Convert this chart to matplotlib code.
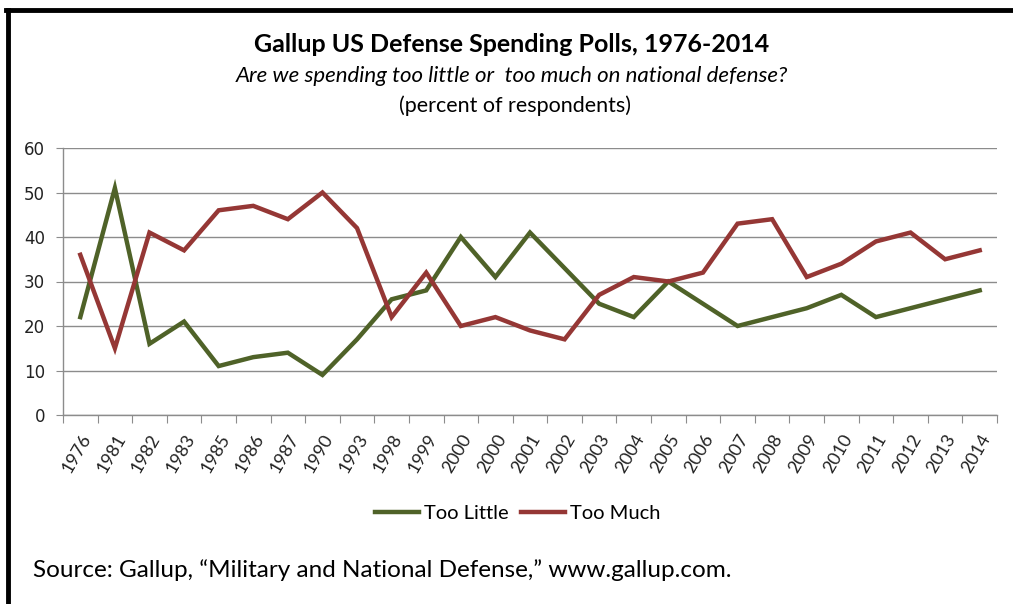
import matplotlib
matplotlib.use('Agg')
import matplotlib.pyplot as plt
from matplotlib.lines import Line2D

years = ['1976', '1981', '1982', '1983', '1985', '1986', '1987', '1990', '1993',
         '1998', '1999', '2000', '2000', '2001', '2002', '2003', '2004', '2005',
         '2006', '2007', '2008', '2009', '2010', '2011', '2012', '2013', '2014']
too_little = [22, 51, 16, 21, 11, 13, 14, 9, 17, 26, 28, 40, 31, 41, 33, 25, 22,
              30, 25, 20, 22, 24, 27, 22, 24, 26, 28]
too_much = [36, 15, 41, 37, 46, 47, 44, 50, 42, 22, 32, 20, 22, 19, 17, 27, 31,
            30, 32, 43, 44, 31, 34, 39, 41, 35, 37]

GREEN = '#4F6228'
RED = '#953735'
GRID = '#8c8c8c'
FONT = ['Lato', 'DejaVu Sans']

W, H = 1013, 604
fig = plt.figure(figsize=(W / 100, H / 100), dpi=100)
ax = fig.add_axes([63 / W, 1 - 415 / H, (997 - 63) / W, (415 - 148) / H])

x = list(range(len(years)))
ax.plot(x, too_little, color=GREEN, lw=3.2, solid_joinstyle='miter', label='Too Little')
ax.plot(x, too_much, color=RED, lw=3.2, solid_joinstyle='miter', label='Too Much')

ax.set_xlim(-0.5, len(years) - 0.5)
ax.set_ylim(0, 60)
ax.set_yticks(range(0, 61, 10))
ax.tick_params(axis='y', labelsize=12, length=5, color=GRID, pad=8, labelcolor='#222222')
ax.yaxis.grid(True, color=GRID, lw=1)
ax.set_axisbelow(True)

ax.set_xticks([i - 0.5 for i in range(len(years) + 1)], minor=False)
ax.set_xticklabels([])
ax.set_xticks(x, minor=True)
ax.set_xticklabels(years, minor=True, rotation=60, ha='right', va='top',
                   rotation_mode='anchor', fontsize=13, family=FONT, color='#222222')
ax.tick_params(axis='x', which='major', length=6, color=GRID)
ax.tick_params(axis='x', which='minor', length=0, pad=12)

for s in ['top', 'right']:
    ax.spines[s].set_visible(False)
for s in ['left', 'bottom']:
    ax.spines[s].set_color(GRID)
    ax.spines[s].set_linewidth(1)

fig.text(512 / W, 1 - 45 / H, 'Gallup US Defense Spending Polls, 1976-2014',
         ha='center', va='center', fontsize=18, fontweight='bold', family=FONT)
fig.text(512 / W, 1 - 76 / H, 'Are we spending too little or  too much on national defense?',
         ha='center', va='center', fontsize=16, style='italic', family=FONT)
fig.text(515 / W, 1 - 106 / H, '(percent of respondents)',
         ha='center', va='center', fontsize=15.5, family=FONT)

handles = [Line2D([], [], color=GREEN, lw=3.2), Line2D([], [], color=RED, lw=3.2)]
fig.legend(handles, ['Too Little', 'Too Much'], loc='center', bbox_to_anchor=(518 / W, 1 - 513 / H),
           ncol=2, frameon=False, prop={'family': FONT, 'size': 14.5},
           handlelength=2.2, handletextpad=0.25, columnspacing=0.6)

fig.text(33 / W, 1 - 570 / H, 'Source: Gallup, \u201cMilitary and National Defense,\u201d www.gallup.com.',
         ha='left', va='center', fontsize=17.5, family=FONT)

# black frame on left and top
fig.add_artist(Line2D([7.5 / W, 7.5 / W], [0, 1 - 9.5 / H], color='black', lw=3.5))
fig.add_artist(Line2D([6 / W, 1], [1 - 9.5 / H, 1 - 9.5 / H], color='black', lw=3.5))

fig.savefig('out.png', dpi=100)
